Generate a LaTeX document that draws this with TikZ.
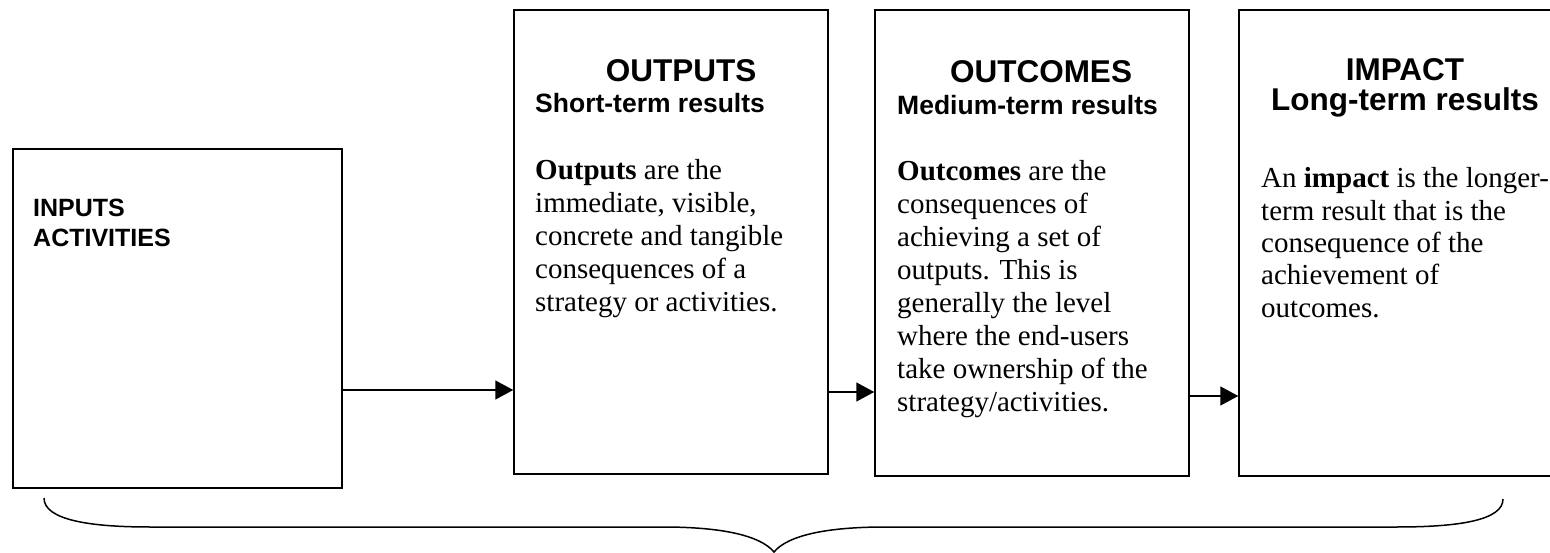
\documentclass[tikz,border=0pt]{standalone}
\usepackage{fontspec}
\setmainfont{Liberation Serif}
\newfontfamily\arial{Liberation Sans}
\usetikzlibrary{arrows.meta}

\begin{document}
\begin{tikzpicture}[x=1pt,y=-1pt]
\tikzstyle{box} = [draw, line width=1.5pt, inner sep=0pt]
\tikzstyle{head} = [font=\arial\bfseries\fontsize{31.5}{36}\selectfont, anchor=base, inner sep=0pt]
\tikzstyle{sub} = [font=\arial\bfseries\fontsize{26.5}{30}\selectfont, anchor=base west, inner sep=0pt]
\tikzstyle{lab} = [font=\arial\bfseries\fontsize{25}{30}\selectfont, anchor=base west, align=left, inner sep=0pt]
\tikzstyle{body} = [font=\fontsize{29}{33}\selectfont, anchor=base west, align=left, inner sep=0pt]
\tikzstyle{arr} = [line width=1.5pt, -{Triangle[length=18pt,width=19pt]}]

\useasboundingbox (0,0) rectangle (1550,553);

% boxes
\node[box, minimum width=329, minimum height=339] (inputs) at (177.5,318.5) {};
\node[box, minimum width=314, minimum height=464] (outputs) at (671,242) {};
\node[box, minimum width=314, minimum height=466] (outcomes) at (1032,243) {};
\node[box, minimum width=317, minimum height=466] (impact) at (1397.5,243) {};

% arrows
\draw[arr] (inputs.east |- 0,390) -- (outputs.west |- 0,390);
\draw[arr] (outputs.east |- 0,392) -- (outcomes.west |- 0,392);
\draw[arr] (outcomes.east |- 0,396) -- (impact.west |- 0,396);

% texts (multi-line nodes sit on their last line)
\node[lab] (intext) at (33,247) {INPUTS\\ACTIVITIES};

\node[head] (outhead) at (681,82) {OUTPUTS};
\node[sub] (outsub) at (535,113) {Short-term results};
\node[body] (outtext) at (535,312) {\textbf{Outputs} are the\\immediate, visible,\\concrete and tangible\\consequences of a\\strategy or activities.};

\node[head] (cmhead) at (1041,83) {OUTCOMES};
\node[sub] (cmsub) at (897,115) {Medium-term results};
\node[body] (cmtext) at (897,411) {\textbf{Outcomes} are the\\consequences of\\achieving a set of\\outputs. This is\\generally the level\\where the end-users\\take ownership of the\\strategy/activities.};

\node[head] (imphead) at (1405,81) {IMPACT};
\node[head] (impsub) at (1405,111) {Long-term results};
\node[body, font=\fontsize{29}{32.3}\selectfont] (imptext) at (1261,317) {An \textbf{impact} is the longer-\\term result that is the\\consequence of the\\achievement of\\outcomes.};

% brace
\draw[line width=1.5pt] (44,498) .. controls (44,520) and (90,527) .. (150,527) -- (663,527)
  .. controls (720,527) and (760,535) .. (774,552)
  .. controls (788,535) and (828,527) .. (885,527) -- (1397,527)
  .. controls (1460,527) and (1503,520) .. (1503,499);

\end{tikzpicture}
\end{document}
